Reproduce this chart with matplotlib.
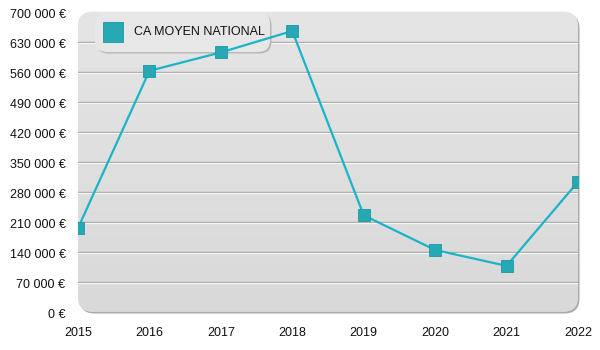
import numpy as np
import matplotlib
matplotlib.use("Agg")
import matplotlib.pyplot as plt
from matplotlib.patches import FancyBboxPatch
from matplotlib.ticker import FuncFormatter
from matplotlib.transforms import ScaledTranslation

plt.rcParams['font.family'] = ['Liberation Sans', 'DejaVu Sans']

years = [2015, 2016, 2017, 2018, 2019, 2020, 2021, 2022]
ca_moyen = [195000, 562000, 605000, 655000, 225000, 144000, 107000, 303000]
y_ticks = list(range(0, 700001, 70000))
series_label = "CA MOYEN NATIONAL"

line_color = "#1ab4c8"
marker_face = "#26a9b4"
marker_edge = "#1c98a3"

fig = plt.figure(figsize=(6, 3.5), dpi=100)
ax = fig.add_axes([78 / 600, (350 - 311.7) / 350, 500 / 600, 300 / 350])
ax.set_xlim(years[0], years[-1])
ax.set_ylim(0, 700000)
ax.patch.set_visible(False)

# rounded panel with soft shadow on right/bottom
shadow = FancyBboxPatch((0.003, -0.006), 1.0, 1.0,
                        boxstyle="round,pad=0,rounding_size=0.03",
                        transform=ax.transAxes, facecolor="#ababab",
                        edgecolor="none", zorder=0, clip_on=False,
                        mutation_aspect=500 / 300)
ax.add_patch(shadow)
panel = FancyBboxPatch((0, 0), 1.0, 1.0,
                       boxstyle="round,pad=0,rounding_size=0.03",
                       transform=ax.transAxes, facecolor="#e0e0e0",
                       edgecolor="none", zorder=0.5, clip_on=False,
                       mutation_aspect=500 / 300)
ax.add_patch(panel)
grad = np.linspace(0, 1, 256).reshape(-1, 1)
img = ax.imshow(grad, extent=[0, 1, 0, 1], transform=ax.transAxes,
                cmap=matplotlib.colors.LinearSegmentedColormap.from_list(
                    "bg", ["#d9d9d9", "#e5e5e5"]),
                origin="lower", aspect="auto", zorder=0.6)
img.set_clip_path(panel)

# embossed gridlines
for v in y_ticks[1:-1]:
    ax.axhline(v, color="#a6a6a6", lw=1.0, zorder=1)
    ax.axhline(v - 700000 / 300 * 1.1, color="#f7f7f7", lw=0.9, zorder=1)

# legend box, drawn under the data line
def fx(px):
    return px / 600

def fy(py):
    return 1 - py / 350

leg_shadow = FancyBboxPatch((fx(96.5), fy(53.5)), fx(175), 40 / 350,
                            boxstyle="round,pad=0,rounding_size=0.02",
                            transform=fig.transFigure, facecolor="#b8b8b8",
                            edgecolor="none", zorder=2, clip_on=False,
                            mutation_aspect=600 / 350)
ax.add_patch(leg_shadow)
leg = FancyBboxPatch((fx(95), fy(52)), fx(175), 40 / 350,
                     boxstyle="round,pad=0,rounding_size=0.02",
                     transform=fig.transFigure, facecolor="#e7e7e7",
                     edgecolor="none", zorder=2.1, clip_on=False,
                     mutation_aspect=600 / 350)
ax.add_patch(leg)
ax.plot([fx(113)], [fy(32)], transform=fig.transFigure,
        marker="s", markersize=14, markerfacecolor=marker_face,
        markeredgecolor=marker_edge, markeredgewidth=0.6,
        zorder=2.2, clip_on=False)
ax.text(fx(134), fy(32), series_label, fontsize=9, color="#111111",
        va="center", ha="left", zorder=2.2, transform=fig.transFigure)

ax.plot(years, ca_moyen, color=line_color, lw=1.6, zorder=3,
        marker="s", markersize=8.5, markerfacecolor=marker_face,
        markeredgecolor=marker_edge, markeredgewidth=0.6, clip_on=True)

for s in ax.spines.values():
    s.set_visible(False)
ax.set_yticks(y_ticks)
ax.yaxis.set_major_formatter(FuncFormatter(
    lambda v, p: f"{int(v):,} €".replace(",", " ")))
ax.set_xticks(years)
ax.set_xticklabels([str(y) for y in years])
ax.tick_params(axis="both", length=0, labelsize=9, colors="#111111")
ax.tick_params(axis="y", pad=9)
ax.tick_params(axis="x", pad=11)

# nudge the value labels slightly below their gridlines
shift = ScaledTranslation(0, -2 / 100, fig.dpi_scale_trans)
for lbl in ax.get_yticklabels():
    lbl.set_transform(lbl.get_transform() + shift)

fig.savefig("out.png", dpi=100)
